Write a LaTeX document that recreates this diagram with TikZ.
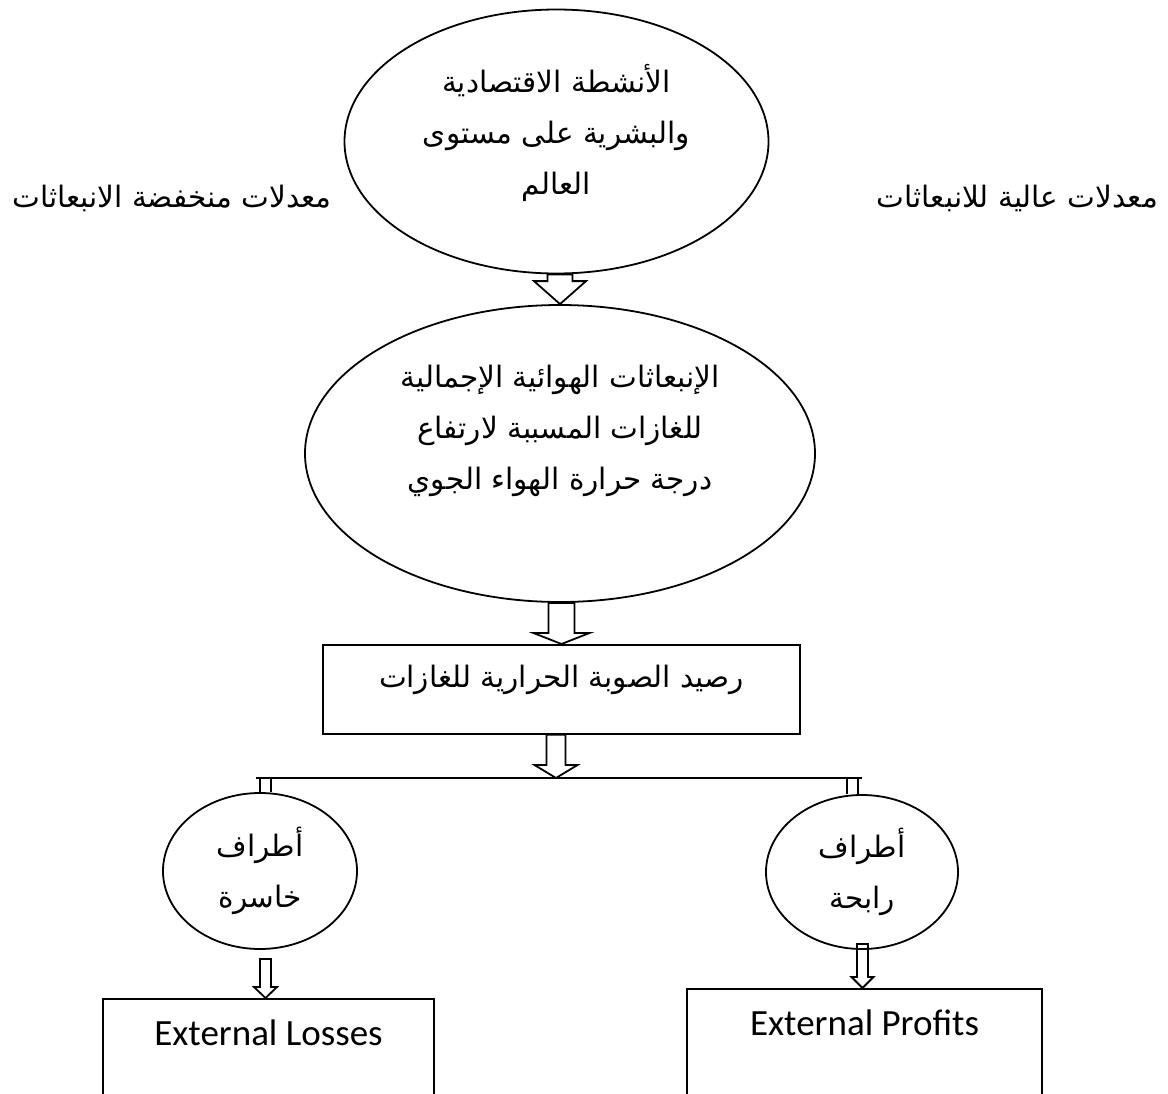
\documentclass[tikz,border=0pt]{standalone}
\usepackage{fontspec}
\usetikzlibrary{shapes.geometric,calc}
\TeXXeTstate=1
\newfontfamily\arabicfont[Script=Arabic]{DejaVu Sans}
\newfontfamily\latinfont{Carlito}

\tikzset{
  outline/.style={line width=1.8pt},
  roundbox/.style={draw, outline, ellipse, inner sep=0pt},
  arabtext/.style={font=\arabicfont\fontsize{29.5}{51}\selectfont, align=center},
  arabline/.style={font=\arabicfont\fontsize{29.5}{51}\selectfont},
  latinline/.style={font=\latinfont\fontsize{37}{44}\selectfont},
  openbox/.style={draw, outline, anchor=north, inner ysep=0pt},
  arrowline/.style={outline, line join=miter}
}

% hollow block arrow: start, tip, shaft half width, head half width, head length
\newcommand{\hollowarrow}[5]{%
  \draw[arrowline] let \p1=(#1), \p2=(#2) in
    (\x2-#3,\y1) -- (\x2-#3,\y2+#5) -- (\x2-#4,\y2+#5) -- (\x2,\y2)
    -- (\x2+#4,\y2+#5) -- (\x2+#3,\y2+#5) -- (\x2+#3,\y1) -- cycle;}

\begin{document}
\begin{tikzpicture}[x=1pt, y=-1pt]
    \useasboundingbox (0,0) rectangle (1168,1093);
    \clip (0,0) rectangle (1168,1093);

    % Top ellipse
    \node[roundbox, minimum width=424pt, minimum height=264pt] (activity) at (556.5,141.5) {};
    \node[arabtext] (activitytext) at ([yshift=9pt]activity.center)
        {\beginR الأنشطة الاقتصادية\endR\\ \beginR والبشرية على مستوى\endR\\ \beginR العالم\endR};

    % Side labels
    \node[arabline] (lowrate) at (172,198) {\beginR معدلات منخفضة الانبعاثات\endR};
    \node[arabline] (highrate) at (1017.5,198) {\beginR معدلات عالية للانبعاثات\endR};

    % Emissions ellipse
    \node[roundbox, minimum width=510pt, minimum height=297pt] (emis) at (560,453.5) {};
    \node[arabtext] (emistext) at ([yshift=23pt]emis.center)
        {\beginR الإنبعاثات الهوائية الإجمالية\endR\\ \beginR للغازات المسببة لارتفاع\endR\\ \beginR درجة حرارة الهواء الجوي\endR};

    % Balance box
    \node[openbox, arabline, minimum width=477pt, text height=43pt, text depth=46pt] (balance) at (561.5,644)
        {\beginR رصيد الصوبة الحرارية للغازات\endR};

    % Branch line
    \coordinate (split) at (556,778);
    \coordinate (branchL) at (256,778);
    \coordinate (branchR) at (862,778);
    \draw[outline] (branchL) -- (branchR);

    % Parties
    \node[roundbox, arabtext, minimum width=194pt, minimum height=156pt] (loser) at (260,871)
        {\beginR أطراف\endR\\ \beginR خاسرة\endR};
    \node[roundbox, arabtext, minimum width=192pt, minimum height=154pt] (winner) at (862,872)
        {\beginR أطراف\endR\\ \beginR رابحة\endR};

    % Stubs
    \draw[outline] ([xshift=0pt]loser.north |- split) -- ([xshift=0pt]loser.north);
    \draw[outline] ([xshift=11pt]loser.north |- split) -- ([xshift=11pt]loser.north);
    \draw[outline] ([xshift=-15pt]winner.north |- split) -- ([xshift=-15pt]winner.north);
    \draw[outline] ([xshift=-4pt]winner.north |- split) -- ([xshift=-4pt]winner.north);

    % Result boxes
    \node[openbox, latinline, minimum width=331pt, text height=47pt, text depth=150pt] (losses) at (268.5,998) {External Losses};
    \node[openbox, latinline, minimum width=355pt, text height=47pt, text depth=150pt] (profits) at (864.5,988) {External Profits};

    % Block arrows
    \hollowarrow{activity.south}{emis.north}{12.5pt}{26pt}{23pt}
    \hollowarrow{emis.south}{balance.north}{13pt}{28pt}{11pt}
    \hollowarrow{balance.south}{split}{9.5pt}{21.5pt}{13pt}
    \hollowarrow{[yshift=-9pt]loser.south}{[xshift=-3pt]losses.north}{5.5pt}{11.5pt}{11pt}
    \hollowarrow{[yshift=6pt]winner.south}{[xshift=-2pt]profits.north}{5.5pt}{11pt}{11pt}
\end{tikzpicture}
\end{document}
